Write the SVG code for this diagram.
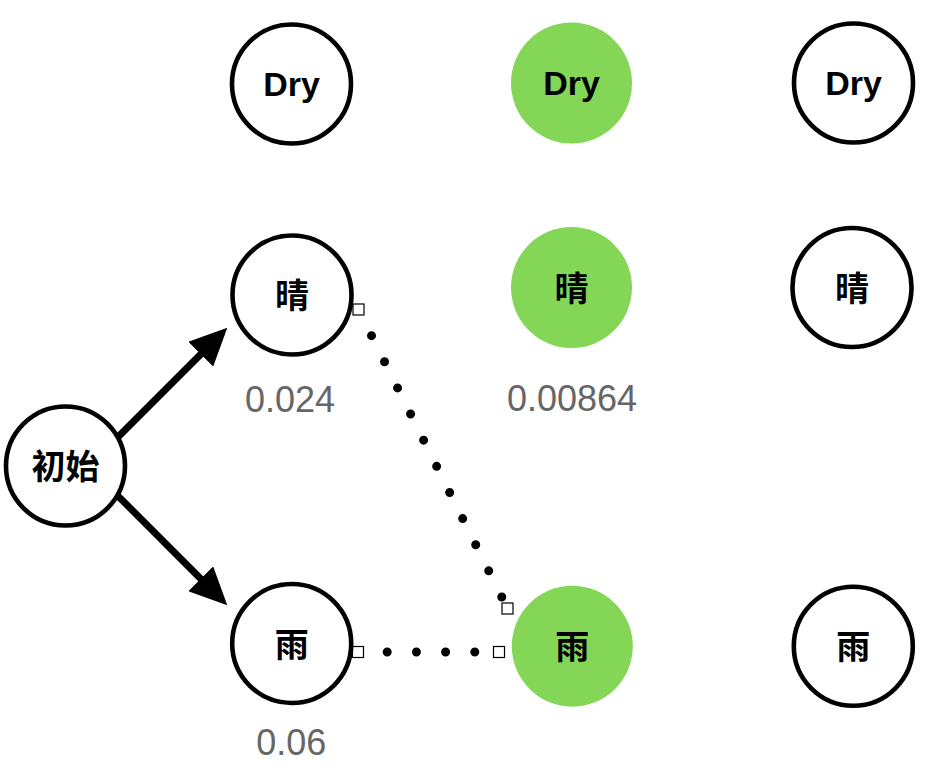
<svg xmlns="http://www.w3.org/2000/svg" width="934" height="776" viewBox="0 0 934 776">
<style>
.n{stroke:#000;stroke-width:4.6;fill:#fff}
.g{fill:#83d656;stroke:none}
.t{font-family:"Liberation Sans","Noto Sans CJK SC",sans-serif;font-weight:bold;font-size:34px;fill:#000;text-anchor:middle}
.c{font-family:"Noto Sans CJK SC","Liberation Sans",sans-serif;font-weight:bold;font-size:34px;fill:#000;text-anchor:middle}
.v{font-family:"Liberation Sans",Arial,sans-serif;font-size:36px;fill:#666;text-anchor:middle}
.a{stroke:#000;stroke-width:7;fill:none}
.d{stroke:#000;stroke-width:9;stroke-linecap:round;stroke-dasharray:0 29.2;fill:none}
.h{fill:#fff;stroke:#000;stroke-width:1.2}
</style>
<defs>
<marker id="ah" markerUnits="userSpaceOnUse" viewBox="0 0 37.5 35" markerWidth="37.5" markerHeight="35" refX="1" refY="17.5" orient="auto">
<path d="M0,0 L37.5,17.5 L0,35 Z" fill="#000"/>
</marker>
</defs>
<rect width="934" height="776" fill="#fff"/>
<g id="connectors">
<line class="a" x1="113" y1="442" x2="201.5" y2="353.5" marker-end="url(#ah)"/>
<line class="a" x1="113" y1="491" x2="201.5" y2="579.5" marker-end="url(#ah)"/>
<path class="d" d="M358.5,309.5 L507.5,608.5"/>
<path class="d" d="M358,652 L499,652"/>
<rect class="h" x="353" y="304" width="11" height="11"/>
<rect class="h" x="502" y="603" width="11" height="11"/>
<rect class="h" x="352.5" y="646.5" width="11" height="11"/>
<rect class="h" x="493.5" y="646.5" width="11" height="11"/>
</g>
<g id="node-init"><circle class="n" cx="65.5" cy="466" r="59.5"/><text class="c" x="65.5" y="479">初始</text></g>
<g id="node-dry1"><circle class="n" cx="291.5" cy="84" r="59.5"/><text class="t" x="291.5" y="96">Dry</text></g>
<g id="node-dry2"><circle class="g" cx="571.5" cy="83" r="60.5"/><text class="t" x="571.5" y="95">Dry</text></g>
<g id="node-dry3"><circle class="n" cx="853.5" cy="83" r="59.5"/><text class="t" x="853.5" y="95">Dry</text></g>
<g id="node-sun1"><circle class="n" cx="292" cy="295" r="59.5"/><text class="c" x="292" y="308">晴</text></g>
<g id="node-sun2"><circle class="g" cx="571.5" cy="287.5" r="60.5"/><text class="c" x="571.5" y="300.5">晴</text></g>
<g id="node-sun3"><circle class="n" cx="852" cy="287.5" r="59.5"/><text class="c" x="852" y="300.5">晴</text></g>
<g id="node-rain1"><circle class="n" cx="291.7" cy="643.5" r="59.5"/><text class="c" x="291.7" y="656.5">雨</text></g>
<g id="node-rain2"><circle class="g" cx="572.3" cy="646.2" r="60.5"/><text class="c" x="572.3" y="659.2">雨</text></g>
<g id="node-rain3"><circle class="n" cx="853.3" cy="646.3" r="59.5"/><text class="c" x="853.3" y="659.3">雨</text></g>
<g id="labels">
<text class="v" x="290" y="411.5">0.024</text>
<text class="v" x="572" y="411">0.00864</text>
<text class="v" x="291.3" y="755">0.06</text>
</g>
</svg>
